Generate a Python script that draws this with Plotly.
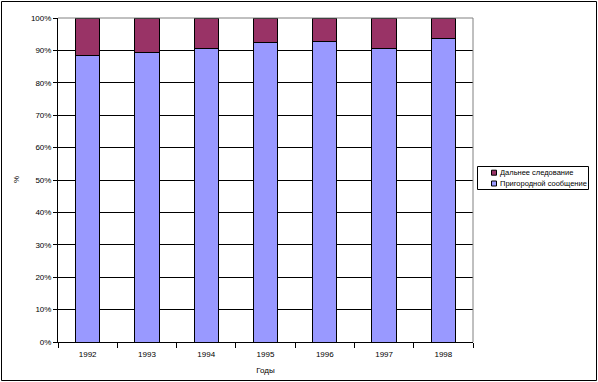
import plotly.graph_objects as go

years = ["1992", "1993", "1994", "1995", "1996", "1997", "1998"]
suburban = [88.5, 89.4, 90.6, 92.5, 92.7, 90.5, 93.7]
long_distance = [11.5, 10.6, 9.4, 7.5, 7.3, 9.5, 6.3]
series_names = ["Пригородной сообщение", "Дальнее следование"]
series_colors = ["#9999FF", "#993366"]

W, H = 598, 382
L, R, T, B = 58, 125, 18, 40
pw, ph = W - L - R, H - T - B


def px_x(x):
    return (x - L) / pw


def px_y(y):
    return (H - B - y) / ph


fig = go.Figure()
for vals, name, col in zip([suburban, long_distance], series_names, series_colors):
    fig.add_trace(go.Bar(x=years, y=vals, name=name, showlegend=False,
                         marker=dict(color=col, line=dict(color="black", width=1)),
                         width=0.41, hoverinfo="skip"))

font = dict(family="Liberation Sans, Arial", size=8, color="black")
fig.update_layout(
    width=W, height=H, barmode="stack",
    margin=dict(l=L, r=R, t=T, b=B, autoexpand=False),
    paper_bgcolor="white", plot_bgcolor="white",
    font=font,
    showlegend=False,
    xaxis=dict(title=dict(text="Годы", font=dict(size=8), standoff=9),
               showline=True, linecolor="black", linewidth=1, automargin=False,
               ticks="outside", ticklen=5, tickcolor="black", ticklabelstandoff=4,
               tickson="boundaries", showgrid=False),
    yaxis=dict(range=[0, 100], tickvals=list(range(0, 101, 10)),
               ticktext=[f"{v}%" for v in range(0, 101, 10)],
               showline=True, linecolor="black", linewidth=1, automargin=False,
               ticks="outside", ticklen=4, tickcolor="black",
               showgrid=True, gridcolor="black", gridwidth=1, zeroline=False),
    bargap=0.59,
)
# y-axis title
fig.add_annotation(xref="paper", yref="paper", x=px_x(16), y=px_y(180),
                   xanchor="center", yanchor="middle", showarrow=False,
                   text="%", textangle=-90, font=dict(size=8))
# plot area top/right grey border
fig.add_shape(type="line", xref="paper", yref="paper", x0=0, x1=1, y0=1, y1=1,
              line=dict(color="#808080", width=1))
fig.add_shape(type="line", xref="paper", yref="paper", x0=1, x1=1, y0=0, y1=1,
              line=dict(color="#808080", width=1))
# outer chart border
fig.add_shape(type="rect", xref="paper", yref="paper",
              x0=px_x(1.5), x1=px_x(W - 1.5), y0=px_y(H - 1.5), y1=px_y(1.5),
              line=dict(color="black", width=1))

# legend (custom, compact like the original)
fig.add_shape(type="rect", xref="paper", yref="paper",
              x0=px_x(477.5), x1=px_x(588.5), y0=px_y(189.5), y1=px_y(166.5),
              line=dict(color="black", width=1), fillcolor="white")
legend_rows = [(series_names[1], series_colors[1], 172.7),
               (series_names[0], series_colors[0], 183.5)]
for name, col, cy in legend_rows:
    fig.add_shape(type="rect", xref="paper", yref="paper",
                  x0=px_x(491.5), x1=px_x(496.5), y0=px_y(cy + 2.5), y1=px_y(cy - 2.5),
                  line=dict(color="black", width=1), fillcolor=col)
    fig.add_annotation(xref="paper", yref="paper", x=px_x(497.5), y=px_y(cy),
                       xanchor="left", yanchor="middle", showarrow=False,
                       text=name, font=dict(size=7.5, family="Liberation Sans, Arial"))

fig.write_html("out.html", config={"displayModeBar": False},
               post_script="document.body.style.margin='0';document.body.style.overflow='hidden';")
